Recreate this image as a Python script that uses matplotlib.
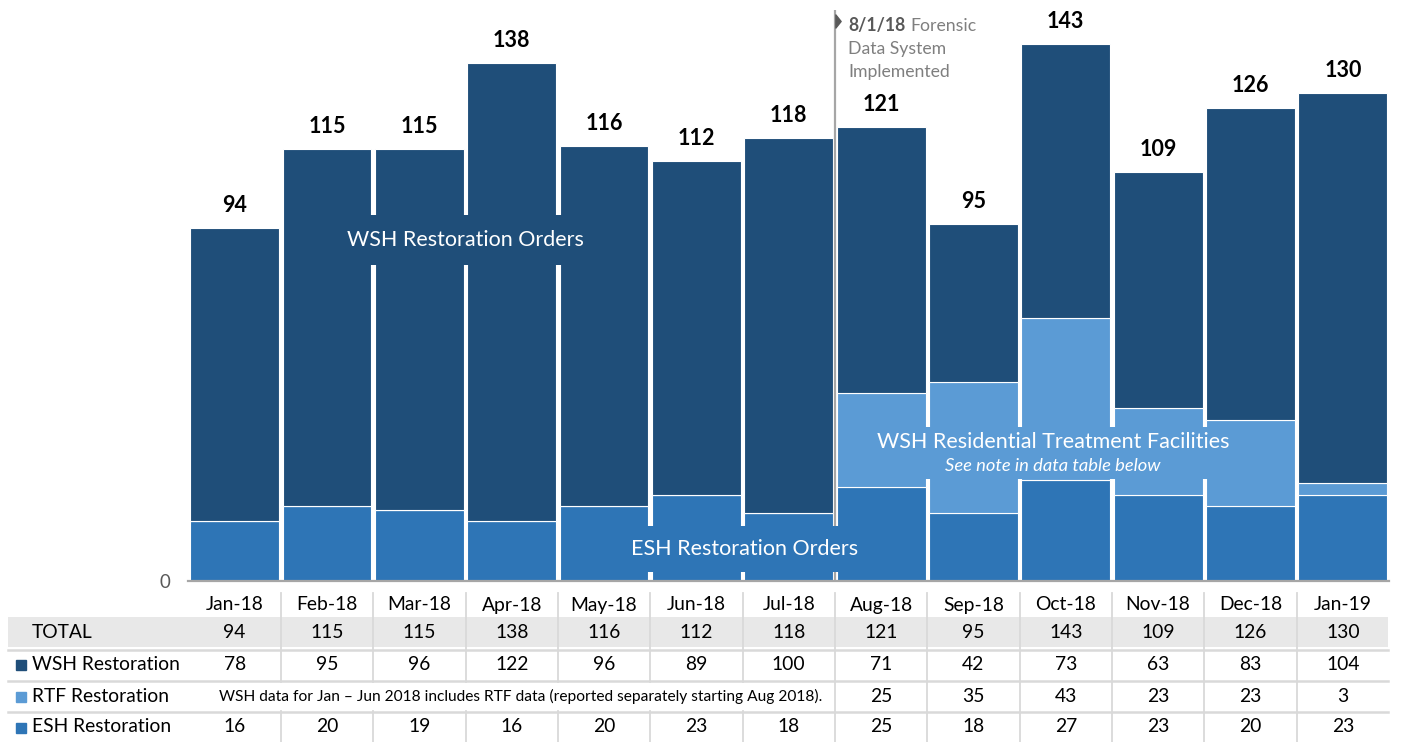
import matplotlib
matplotlib.use("Agg")
import matplotlib.pyplot as plt
from matplotlib.transforms import blended_transform_factory
from matplotlib.lines import Line2D
from matplotlib.patches import Rectangle
from matplotlib.path import Path
from matplotlib.offsetbox import TextArea, VPacker, AnnotationBbox

# ---------------- data ----------------
months = ["Jan-18", "Feb-18", "Mar-18", "Apr-18", "May-18", "Jun-18", "Jul-18",
          "Aug-18", "Sep-18", "Oct-18", "Nov-18", "Dec-18", "Jan-19"]
total = [94, 115, 115, 138, 116, 112, 118, 121, 95, 143, 109, 126, 130]
wsh = [78, 95, 96, 122, 96, 89, 100, 71, 42, 73, 63, 83, 104]
rtf = [None, None, None, None, None, None, None, 25, 35, 43, 23, 23, 3]
esh = [16, 20, 19, 16, 20, 23, 18, 25, 18, 27, 23, 20, 23]
row_labels = ["WSH Restoration", "RTF Restoration", "ESH Restoration"]
rtf_note = "WSH data for Jan \u2013 Jun 2018 includes RTF data (reported separately starting Aug 2018)."

# ---------------- style ----------------
C_WSH = "#1F4E79"
C_RTF = "#5B9BD5"
C_ESH = "#2E75B6"
GRID = "#D9D9D9"
BAND = "#E8E8E8"
FONT = "Lato"
plt.rcParams["font.family"] = [FONT, "DejaVu Sans"]

W, H = 1406, 742
fig = plt.figure(figsize=(W / 100, H / 100), dpi=100)


def fx(px):
    return px / W


def fy(py):
    return 1 - py / H


# main axes
ax_left, ax_right, ax_bottom = 188.5, 1389, 581
slot = (ax_right - ax_left) / 13
ax = fig.add_axes([fx(ax_left), fy(ax_bottom), fx(ax_right - ax_left), ax_bottom / H])
ax.set_xlim(-0.5, 12.5)
ppu = 3.754
ax.set_ylim(0, ax_bottom / ppu)

x = list(range(len(months)))
rtf_vals = [v if v is not None else 0 for v in rtf]
bw = 0.962
ax.bar(x, esh, width=bw, color=C_ESH, edgecolor="white", linewidth=0.8, zorder=2)
ax.bar(x, rtf_vals, width=bw, bottom=esh, color=C_RTF, edgecolor="white", linewidth=0.8, zorder=2)
bot2 = [a + b for a, b in zip(esh, rtf_vals)]
ax.bar(x, wsh, width=bw, bottom=bot2, color=C_WSH, edgecolor="white", linewidth=0.8, zorder=2)

for xi, t in zip(x, total):
    ax.annotate(str(t), (xi, t), xytext=(0, 11.5), textcoords="offset points",
                ha="center", va="baseline", fontsize=15.5, fontweight="bold", color="black")

for s in ["top", "right", "left"]:
    ax.spines[s].set_visible(False)
ax.spines["bottom"].set_color("#A6A6A6")
ax.spines["bottom"].set_linewidth(1.6)
ax.set_xticks([])
ax.set_yticks([0])
ax.tick_params(axis="y", length=0, pad=13, labelsize=13.5, labelcolor="#595959")

# series labels with background boxes
ax.text(2.5, (581 - 240) / ppu, "WSH Restoration Orders", ha="center", va="center",
        color="white", fontsize=15.5, zorder=5,
        bbox=dict(boxstyle="square,pad=0.7", facecolor=C_WSH, edgecolor="none"))
ax.text(5.52, (581 - 549) / ppu, "ESH Restoration Orders", ha="center", va="center",
        color="white", fontsize=15.5, zorder=5,
        bbox=dict(boxstyle="square,pad=0.6", facecolor=C_ESH, edgecolor="none"))

ta1 = TextArea("WSH Residential Treatment Facilities",
               textprops=dict(color="white", fontsize=15.5, family=[FONT, "DejaVu Sans"]))
ta2 = TextArea("See note in data table below",
               textprops=dict(color="white", fontsize=13.2, style="italic", family=[FONT, "DejaVu Sans"]))
pack = VPacker(children=[ta1, ta2], align="center", pad=0, sep=5)
ab = AnnotationBbox(pack, (8.86, (581 - 453) / ppu), xycoords="data", frameon=True,
                    pad=0.2, box_alignment=(0.5, 0.5),
                    bboxprops=dict(facecolor=C_RTF, edgecolor="none", boxstyle="square"),
                    zorder=5)
ax.add_artist(ab)

# implementation marker
ax.plot([6.5, 6.5], [0, (581 - 10) / ppu], color="#A6A6A6", linewidth=1.6, zorder=3,
        solid_capstyle="butt")
tri = Path([(-0.4, -1), (0.4, 0), (-0.4, 1), (-0.4, -1)],
           [Path.MOVETO, Path.LINETO, Path.LINETO, Path.CLOSEPOLY])
ax.plot([6.528], [(581 - 21) / ppu], marker=tri, markersize=9.5, color="#595959",
        linestyle="none", zorder=4)
ann_x = 6.5 + (848 - 835) / slot
t_bold = ax.text(ann_x, (581 - 31) / ppu, "8/1/18", ha="left", va="baseline",
                 fontsize=12.7, fontweight="bold", color="#595959")
ax.annotate("Forensic", xy=(1, 0), xycoords=t_bold, xytext=(3.5, 0),
            textcoords="offset points", ha="left", va="bottom", fontsize=12.7, color="#7F7F7F")
ax.text(ann_x, (581 - 54) / ppu, "Data System", ha="left", va="baseline",
        fontsize=12.7, color="#7F7F7F")
ax.text(ann_x, (581 - 77) / ppu, "Implemented", ha="left", va="baseline",
        fontsize=12.7, color="#7F7F7F")

# ---------------- data table ----------------
tr = blended_transform_factory(ax.transData, fig.transFigure)
tab_l, tab_r = 8, 1388
fig.patches.append(Rectangle((fx(tab_l), fy(647)), fx(tab_r - tab_l), (647 - 617) / H,
                             transform=fig.transFigure, facecolor=BAND, edgecolor="none",
                             zorder=0))
for ly in [649.5, 681, 712]:
    fig.add_artist(Line2D([fx(tab_l), fx(tab_r)], [fy(ly), fy(ly)], color=GRID,
                          linewidth=1.8, transform=fig.transFigure, zorder=1))
for i in range(len(months) - 1):
    xb = i + 0.5
    if i < 6:
        segs = [(593, 682), (711, 742)]
    else:
        segs = [(593, 742)]
    for a, b in segs:
        fig.add_artist(Line2D([xb, xb], [fy(a), fy(b)], color=GRID, linewidth=1.3,
                              transform=tr, zorder=1))

row_y = {"month": 605, "total": 632, "wsh": 664, "rtf": 696, "esh": 727}
tfs = 13.9
for xi, m in zip(x, months):
    fig.text(xi, fy(row_y["month"]), m, transform=tr, ha="center", va="center", fontsize=tfs)
for xi, v in zip(x, total):
    fig.text(xi, fy(row_y["total"]), str(v), transform=tr, ha="center", va="center", fontsize=tfs)
for xi, v in zip(x, wsh):
    fig.text(xi, fy(row_y["wsh"]), str(v), transform=tr, ha="center", va="center", fontsize=tfs)
for xi, v in zip(x, rtf):
    if v is not None:
        fig.text(xi, fy(row_y["rtf"]), str(v), transform=tr, ha="center", va="center", fontsize=tfs)
for xi, v in zip(x, esh):
    fig.text(xi, fy(row_y["esh"]), str(v), transform=tr, ha="center", va="center", fontsize=tfs)
fig.text(3.1, fy(row_y["rtf"]), rtf_note, transform=tr, ha="center", va="center", fontsize=11.2)

fig.text(fx(32), fy(row_y["total"]), "TOTAL", ha="left", va="center", fontsize=tfs)
for lab, key, col in zip(row_labels, ["wsh", "rtf", "esh"], [C_WSH, C_RTF, C_ESH]):
    fig.text(fx(32), fy(row_y[key]), lab, ha="left", va="center", fontsize=tfs)
    fig.add_artist(Line2D([fx(20.5)], [fy(row_y[key] + 1)], marker="s", markersize=7.2,
                          color=col, linestyle="none", transform=fig.transFigure))

fig.savefig("out.png", dpi=100)
